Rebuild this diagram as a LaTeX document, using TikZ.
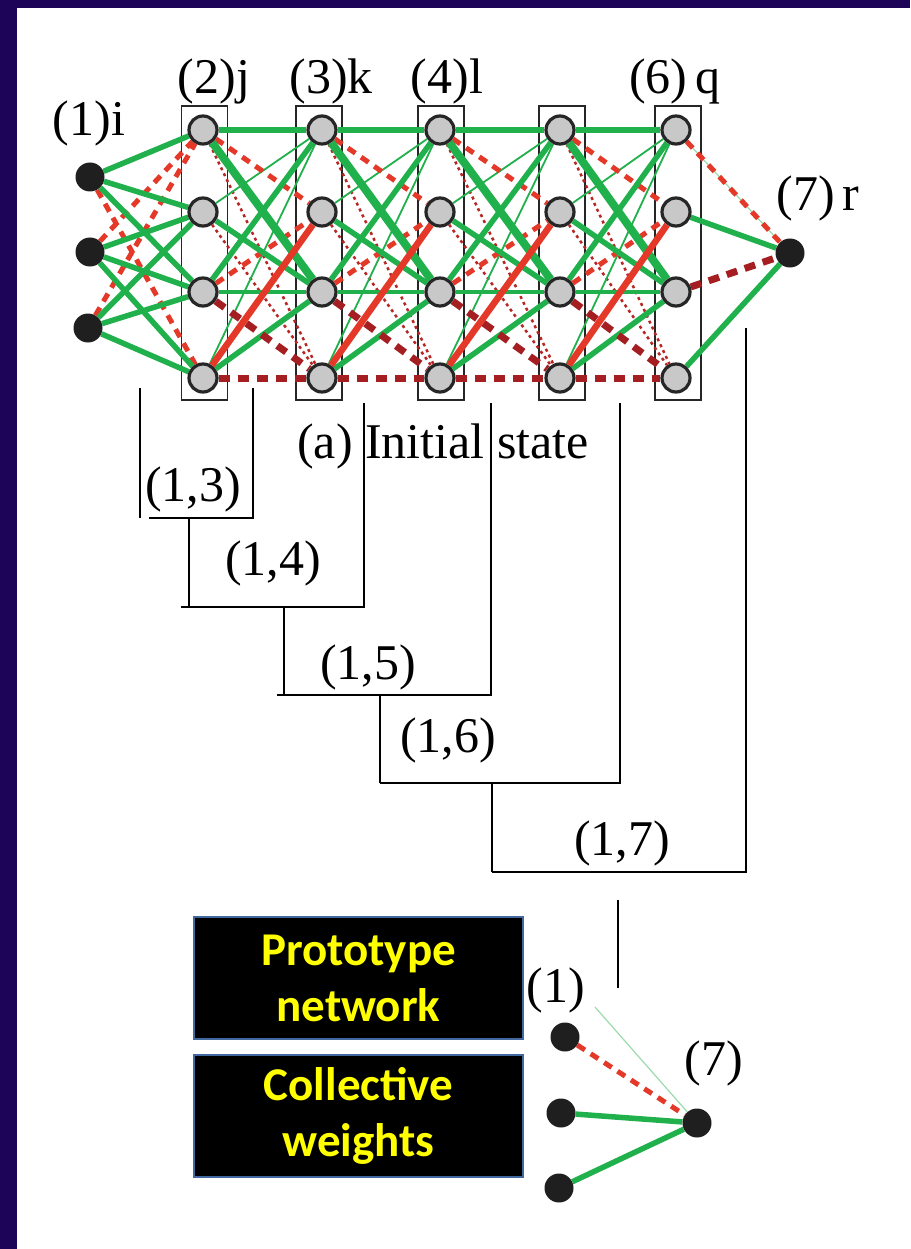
\documentclass[tikz,border=0pt]{standalone}
\usepackage{fontspec}
\setmainfont{Liberation Serif}
\newfontfamily\calib{Carlito}
\definecolor{navy}{RGB}{30,4,88}
\definecolor{gr}{RGB}{32,176,76}
\definecolor{rd}{RGB}{228,56,40}
\definecolor{dr}{RGB}{165,30,34}
\definecolor{ndgray}{RGB}{200,200,200}
\definecolor{bblue}{RGB}{65,105,160}
\definecolor{yel}{RGB}{255,255,0}
\pgfdeclarelayer{back}
\pgfdeclarelayer{bg}
\pgfsetlayers{back,bg,main}
\tikzset{
 gnode/.style={circle,fill=ndgray,draw=black!85,line width=3.2pt,inner sep=0pt,minimum size=28pt},
 bnode/.style={circle,fill=black!88,inner sep=0pt,minimum size=29pt},
 colbox/.style={draw=black!85,line width=1.4pt,inner sep=0pt,minimum width=46pt,minimum height=294pt},
 lbl/.style={font=\fontsize{50}{56}\selectfont,inner sep=0pt,anchor=base},
 gA/.style={draw=gr,line width=5.5pt},
 gB/.style={draw=gr,line width=8pt},
 gM/.style={draw=gr,line width=3.5pt},
 gT/.style={draw=gr,line width=1.8pt},
 gF/.style={draw=gr!45,line width=1.2pt},
 rD/.style={draw=rd,line width=5pt,dash pattern=on 9pt off 7pt},
 rT/.style={draw=rd,line width=6.5pt},
 rdot/.style={draw=dr!70!rd,line width=2.5pt,dash pattern=on 3pt off 3.5pt},
 dd/.style={draw=dr,line width=7pt,dash pattern=on 11pt off 8pt},
 dline/.style={draw=black,line width=2.6pt},
 ybox/.style={fill=black,draw=bblue,line width=2pt,minimum width=329pt,minimum height=122pt,inner sep=0pt,text=yel,font=\calib\bfseries\fontsize{47}{56}\selectfont,align=center},
}
\newcommand\layeredges[2]{%
 \draw[rdot] (#11) -- (#24);
 \draw[rdot] (#12) -- (#24);
 \draw[gT] (#12) -- (#21);
 \draw[gT] (#14) -- (#21);
 \draw[rD] (#11) -- (#22);
 \draw[rD] (#13) -- (#22);
 \draw[gM] (#13) -- (#23);
 \draw[gA] (#11) -- (#21);
 \draw[gA] (#12) -- (#23);
 \draw[gA] (#13) -- (#21);
 \draw[gA] (#14) -- (#23);
 \draw[gB] (#11) -- (#23);
 \draw[rT] (#14) -- (#22);
 \draw[dd] (#13) -- (#24);
 \draw[dd] (#14) -- (#24);
}
\begin{document}
\begin{tikzpicture}[x=1pt,y=-1pt]
\begin{pgfonlayer}{back}
\fill[white] (0,0) rectangle (910,1249);
\fill[navy] (0,0) rectangle (910,8);
\fill[navy] (0,0) rectangle (17,1249);
\end{pgfonlayer}
\useasboundingbox (0,0) rectangle (910,1249);

% hidden-layer nodes
\foreach \n/\x in {j/203,k/322,l/440,m/560,q/676}{
  \foreach \i/\y in {1/130,2/212,3/292,4/378}{
    \node[gnode] (\n\i) at (\x,\y) {};
  }
}
\node[bnode] (i1) at (90,177) {};
\node[bnode] (i2) at (90,252) {};
\node[bnode] (i3) at (88,328) {};
\node[bnode] (r) at (790,253) {};

% labels
\node[lbl] (li) at (89,136) {(1)i};
\node[lbl] (lj) at (214,94) {(2)j};
\node[lbl] (lk) at (331,94) {(3)k};
\node[lbl] (ll) at (447,94) {(4)l};
\node[lbl] (lq) at (675,94) {(6)\,q};
\node[lbl] (lr) at (818,211) {(7)\,r};

\begin{pgfonlayer}{bg}
\foreach \n/\x in {j/204.5,k/319,l/441,m/562,q/678}{
  \node[colbox] (box\n) at (\x,253) {};
}
% input layer
\draw[rD] (i1) -- (j4);
\draw[rD] (i2) -- (j1);
\draw[rD] (i3) -- (j1);
\draw[gA] (i1) -- (j1);
\draw[gA] (i1) -- (j2);
\draw[gA] (i1) -- (j3);
\draw[gA] (i2) -- (j2);
\draw[gA] (i2) -- (j3);
\draw[gA] (i2) -- (j4);
\draw[gA] (i3) -- (j2);
\draw[gA] (i3) -- (j3);
\draw[gA] (i3) -- (j4);
% hidden layers
\layeredges{j}{k}
\layeredges{k}{l}
\layeredges{l}{m}
\layeredges{m}{q}
% output
\draw[gF] (q1) -- (r);
\draw[rD] (q1) -- (r);
\draw[gA] (q2) -- (r);
\draw[dd] (q3) -- (r);
\draw[gA] (q4) -- (r);
\end{pgfonlayer}

% caption and dendrogram
\node[lbl] (cap) at (443,458) {(a) Initial state};
\draw[dline] (140,388) -- (140,518);
\draw[dline] (253,388) -- (253,518) -- (149,518);
\draw[dline] (189,518) -- (189,607);
\draw[dline] (364,403) -- (364,607) -- (181,607);
\draw[dline] (284,607) -- (284,695);
\draw[dline] (491,403) -- (491,695) -- (277,695);
\draw[dline] (380,695) -- (380,783);
\draw[dline] (620,403) -- (620,783) -- (380,783);
\draw[dline] (492,783) -- (492,872);
\draw[dline] (746,328) -- (746,872) -- (492,872);
\draw[dline] (618,900) -- (618,988);
\node[lbl] (d13) at (193,501) {(1,3)};
\node[lbl] (d14) at (273,575) {(1,4)};
\node[lbl] (d15) at (368,679) {(1,5)};
\node[lbl] (d16) at (448,752) {(1,6)};
\node[lbl] (d17) at (622,855) {(1,7)};

% boxes
\node[ybox] (proto) at (358.5,978) {Prototype\\network};
\node[ybox] (coll) at (358.5,1115.5) {Collective\\weights};

% prototype network
\node[bnode] (p1) at (565,1037) {};
\node[bnode] (p2) at (561,1113) {};
\node[bnode] (p3) at (559,1188) {};
\node[bnode] (p7) at (697,1123) {};
\node[lbl] (lp1) at (556,1002) {(1)};
\node[lbl] (lp7) at (714,1075) {(7)};
\coordinate (gs) at (595,1007);
\begin{pgfonlayer}{bg}
\draw[gF] (gs) -- (p7);
\draw[rD] (p1) -- (p7);
\draw[gA] (p2) -- (p7);
\draw[gA] (p3) -- (p7);
\end{pgfonlayer}
\end{tikzpicture}
\end{document}
